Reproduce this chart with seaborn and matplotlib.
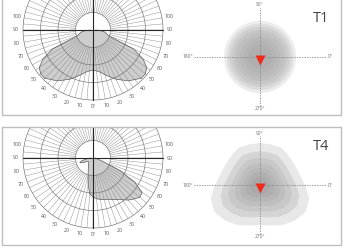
import numpy as np
import matplotlib
matplotlib.use("Agg")
import matplotlib.pyplot as plt
import seaborn as sns
from matplotlib.patches import Rectangle

# ---------------- data ----------------
panel_names = ["T1", "T4"]
grid_rings = [100, 200, 300, 400]                 # cd/klm rings
angle_label_pos = [-100, -90, -80, -70, -60, -50, -40, -30, -20, -10, 0,
                   10, 20, 30, 40, 50, 60, 70, 80, 90, 100]
angle_label_txt = ["100", "90", "80", "70", "60", "50", "40", "30", "20", "10", "0°",
                   "10", "20", "30", "40", "50", "60", "70", "80", "90", "100"]

# T1: symmetric batwing, gamma 0..90 (mirrored to the other side)
t1_gamma = [0, 5, 10, 15, 20, 25, 30, 35, 40, 45, 50, 55, 60, 65, 70, 75, 80, 85, 90]
t1_intensity = [230, 235, 245, 265, 285, 310, 330, 355, 370, 390, 390, 375, 330,
                255, 95, 80, 70, 45, 15]

# T4: asymmetric, gamma -90..90
t4_gamma = [-90, -85, -80, -75, -70, -65, -60, -55, -50, -45, -40, -35, -30, -25,
            -20, -15, -10, -5, 0, 5, 10, 15, 20, 25, 30, 35, 40, 45, 50, 55, 60,
            65, 70, 75, 80, 85, 90]
t4_intensity = [11, 29, 46, 69, 80, 63, 40, 34, 34, 34, 40, 46, 51, 63, 80, 109,
                160, 206, 223, 234, 240, 246, 251, 263, 274, 291, 314, 331, 349,
                343, 274, 171, 69, 34, 23, 17, 11]

# top-view illuminance footprints
t1_level_radius = [36, 33, 30, 27, 24, 20, 16, 12]
t1_level_gray = ["#ececec", "#dcdcdc", "#cfcfcf", "#c6c6c6", "#bfbfbf",
                 "#b9b9b9", "#b4b4b4", "#afafaf"]
t4_contour_angle = [0, 15, 30, 45, 60, 75, 90, 105, 120, 135, 150, 165, 180,
                    195, 210, 225, 240, 255, 270, 285, 300, 315, 330, 345]
t4_contour_radius = [45, 41, 40, 41, 43, 42, 42, 42, 43, 41, 40, 41, 45,
                     51, 53, 50, 46, 42, 40, 42, 46, 50, 53, 51]
t4_level_scale = [1.0, 0.8, 0.65, 0.52, 0.40, 0.30, 0.20]
t4_level_gray = ["#e8e8e8", "#d4d4d4", "#c8c8c8", "#bebebe", "#b6b6b6",
                 "#afafaf", "#a9a9a9"]
compass_txt = ["0°", "90°", "180°", "270°"]

# ---------------- style ----------------
sns.set_theme(style="white")
plt.rcParams["font.family"] = ["Open Sans", "DejaVu Sans"]

W, H = 348, 248
fig = plt.figure(figsize=(W / 100, H / 100), dpi=100)
fig.patch.set_facecolor("white")


def rect_px(x0, y0, w, h):
    return [x0 / W, 1 - (y0 + h) / H, w / W, h / H]


GRID = "#8a8a8a"
RMAX = 450
PX_PER_CD = 0.175
R_PX = RMAX * PX_PER_CD

panels = [
    dict(off=0, top=-4, bottom=115, gamma=t1_gamma, inten=t1_intensity, sym=True),
    dict(off=128, top=127, bottom=245, gamma=t4_gamma, inten=t4_intensity, sym=False),
]

for i, p in enumerate(panels):
    off = p["off"]
    # panel frame
    fig.patches.append(Rectangle((2 / W, 1 - p["bottom"] / H), 339 / W,
                                 (p["bottom"] - p["top"]) / H,
                                 transform=fig.transFigure, fill=False,
                                 edgecolor="#bdbdbd", lw=1.0, zorder=0))
    clip = Rectangle((3 / W, 1 - (p["bottom"] - 1) / H), 337 / W,
                     (p["bottom"] - p["top"] - 2) / H, transform=fig.transFigure)

    # ---------- polar intensity diagram ----------
    cx, cy = 93, 30 + off
    ax = fig.add_axes(rect_px(cx - R_PX, cy - R_PX, 2 * R_PX, 2 * R_PX),
                      projection="polar")
    ax.set_theta_zero_location("S")
    ax.set_theta_direction(1)
    ax.set_ylim(0, RMAX)
    ax.set_axis_off()

    if p["sym"]:
        g = [-a for a in p["gamma"][:0:-1]] + list(p["gamma"])
        r = list(p["inten"][:0:-1]) + list(p["inten"])
    else:
        g = list(p["gamma"])
        r = list(p["inten"])
    th = np.deg2rad(g)
    ax.fill(th, r, color="#cdcdcd", lw=0, zorder=1)
    sns.lineplot(x=th, y=r, ax=ax, sort=False, estimator=None,
                 color="#5c5c5c", lw=0.5, zorder=4, legend=False)

    tt = np.linspace(0, 2 * np.pi, 721)
    for ring in grid_rings:
        ax.plot(tt, np.full_like(tt, ring), color="#6e6e6e", lw=0.45, zorder=2)
    for a in range(0, 360, 5):
        ax.plot([np.deg2rad(a)] * 2, [grid_rings[0], grid_rings[-1]],
                color=GRID, lw=0.32, zorder=2)
    for a in (0, 90, 180, 270):
        ax.plot([np.deg2rad(a)] * 2, [0, grid_rings[-1]], color="#262626",
                lw=0.8, zorder=5)
    for a, lab in zip(angle_label_pos, angle_label_txt):
        ax.text(np.deg2rad(a), 440, lab, ha="center", va="center",
                fontsize=3.8, color="#555555", zorder=6)
    for art in list(ax.lines) + list(ax.patches) + list(ax.texts) + list(ax.collections):
        art.set_clip_path(clip)

    # ---------- top-view footprint ----------
    ccx, ccy = 260, 57 + off
    axs = fig.add_axes(rect_px(ccx - 60, ccy - 60, 120, 120), projection="polar")
    axs.set_ylim(0, 60)
    axs.set_axis_off()
    if i == 0:
        for rad, col in zip(t1_level_radius, t1_level_gray):
            axs.fill(tt, np.full_like(tt, rad), color=col, lw=0)
    else:
        ta = np.deg2rad(t4_contour_angle)
        for sc, col in zip(t4_level_scale, t4_level_gray):
            axs.fill(ta, np.asarray(t4_contour_radius) * sc, color=col, lw=0)

    axr = fig.add_axes(rect_px(176, 2 + off, 164, 112))
    axr.set_xlim(176 - ccx, 340 - ccx)
    axr.set_ylim(ccy - (2 + off + 112), ccy - (2 + off))
    axr.set_axis_off()
    axr.patch.set_visible(False)
    axr.plot([-66, 66], [0, 0], ls=(0, (1.6, 1.4)), color="#8a8a8a", lw=0.6)
    axr.plot([0, 0], [-49, 49], ls=(0, (1.6, 1.4)), color="#8a8a8a", lw=0.6)
    axr.plot([0], [-3], marker="v", ms=6.5, color="#ee2a1b", mec="none", ls="none")
    kw = dict(fontsize=3.5, color="#707070", va="center")
    axr.text(68, 0, compass_txt[0], ha="left", **kw)
    axr.text(0, 52, compass_txt[1], ha="center", **kw)
    axr.text(-67, 0, compass_txt[2], ha="right", **kw)
    axr.text(0, -52, compass_txt[3], ha="center", **kw)
    axr.text(61, 39, panel_names[i], ha="center", va="center",
             fontsize=10.5, color="#444444")

fig.savefig("out.png", dpi=100, facecolor="white")
